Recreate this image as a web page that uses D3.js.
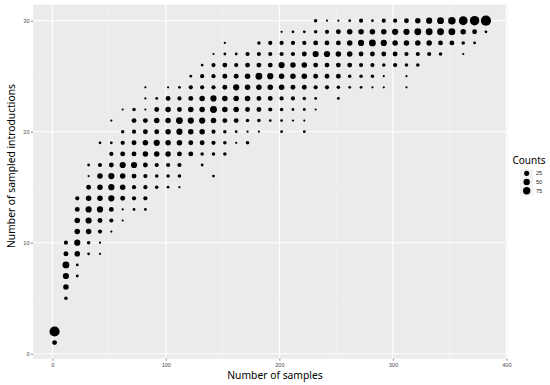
<!DOCTYPE html>
<html>
<head>
<meta charset="utf-8">
<script src="https://cdn.jsdelivr.net/npm/d3@7"></script>
<style>
body { margin: 0; background: white; }
svg { display: block; }
</style>
</head>
<body>
<svg></svg>
<script>
// number of samples (x) for each column of dots
var sampleSizes = [2, 12, 22, 32, 42, 52, 62, 72, 82, 92, 102, 112, 122, 132, 142, 152, 162, 172, 182, 192,
    202, 212, 222, 232, 242, 252, 262, 272, 282, 292, 302, 312, 322, 332, 342, 352, 362, 372, 382];

// lowest "number of sampled introductions" in each column
var firstIntro = [1, 5, 7, 9, 9, 11, 12, 13, 13, 15, 15, 15, 18, 17, 16, 18, 19, 19, 20, 21,
    20, 21, 20, 22, 24, 23, 24, 24, 24, 24, 26, 24, 26, 27, 27, 28, 27, 28, 29];

// counts going up from firstIntro (0 = no dot)
var countsByColumn = [
    [21, 181],
    [6, 32, 46, 62, 21, 12],
    [2, 2, 32, 46, 32, 32, 21, 12],
    [2, 6, 32, 46, 46, 32, 21, 1, 2],
    [1, 1, 12, 21, 46, 32, 32, 32, 12, 0, 2],
    [1, 12, 21, 46, 46, 46, 21, 12, 2, 0, 1],
    [1, 1, 21, 32, 32, 46, 21, 12, 6, 0, 1],
    [2, 12, 12, 21, 46, 21, 21, 12, 21, 6],
    [2, 12, 12, 12, 21, 32, 32, 21, 21, 1, 1, 1],
    [6, 6, 12, 32, 46, 21, 32, 21, 2],
    [2, 6, 12, 32, 32, 32, 32, 32, 21, 1],
    [1, 6, 12, 21, 32, 46, 62, 21, 12, 2],
    [21, 21, 32, 46, 32, 21, 12, 2],
    [2, 6, 21, 32, 46, 32, 32, 12, 12, 2],
    [2, 0, 6, 12, 12, 32, 62, 46, 12, 12, 12, 1],
    [6, 6, 6, 21, 32, 32, 21, 21, 21, 2, 1],
    [1, 2, 21, 32, 32, 46, 21, 12, 2],
    [6, 1, 6, 21, 32, 32, 32, 21, 12],
    [1, 6, 21, 21, 32, 62, 21, 12, 6],
    [2, 12, 21, 32, 46, 21, 12, 12],
    [2, 2, 6, 12, 32, 32, 46, 12, 12, 1],
    [1, 2, 12, 21, 32, 32, 12, 12, 2],
    [2, 1, 2, 6, 21, 32, 32, 21, 12, 2],
    [1, 2, 12, 21, 21, 46, 21, 6, 6],
    [12, 21, 21, 46, 21, 12, 1],
    [2, 6, 21, 21, 32, 21, 21, 1],
    [2, 6, 21, 32, 32, 32, 2],
    [2, 6, 12, 21, 46, 32, 12],
    [1, 6, 12, 21, 62, 32, 2],
    [1, 1, 6, 21, 46, 32, 12],
    [12, 21, 32, 46, 12],
    [1, 1, 6, 12, 32, 46, 21],
    [6, 12, 32, 62, 32],
    [12, 32, 62, 46],
    [6, 21, 62, 62],
    [21, 62, 81],
    [1, 6, 32, 126],
    [2, 21, 152],
    [2, 181]
];

var xTicks = [0, 100, 200, 300, 400];
var xMinor = [50, 150, 250, 350];
var yTicks = [0, 10, 20, 30];
var yMinor = [5, 15, 25];
var legendBreaks = [25, 50, 75];

var screen = {width: 550, height: 385};
var panel = {left: 33, right: 507.5, top: 4.6, bottom: 358.7};

var points = [];
sampleSizes.forEach(function(x, i){
    countsByColumn[i].forEach(function(c, j){
        if (c > 0) points.push({x: x, y: firstIntro[i] + j, count: c});
    });
});

var svg = d3.select("svg")
    .attr("width", screen.width)
    .attr("height", screen.height);

// ggplot style 5% expansion
var xExt = d3.extent(points, function(d){ return d.x; });
var yExt = d3.extent(points, function(d){ return d.y; });
var xPad = (xExt[1] - xExt[0]) * 0.05;
var yPad = (yExt[1] - yExt[0]) * 0.05;

var xScale = d3.scaleLinear()
    .domain([xExt[0] - xPad, xExt[1] + xPad])
    .range([panel.left, panel.right]);

var yScale = d3.scaleLinear()
    .domain([yExt[0] - yPad, yExt[1] + yPad])
    .range([panel.bottom, panel.top]);

// area-like size scale (diameter grows with sqrt of rescaled count)
var norm = d3.scaleLinear()
    .domain(d3.extent(points, function(d){ return d.count; }))
    .range([0, 1]);
var rScale = d3.scaleLinear().domain([0, 1]).range([1.1, 5.1]);
var radius = function(c){ return rScale(Math.sqrt(Math.max(0, norm(c)))); };

svg.append("rect")
    .attr("x", panel.left)
    .attr("y", panel.top)
    .attr("width", panel.right - panel.left)
    .attr("height", panel.bottom - panel.top)
    .attr("fill", "#EBEBEB");

var grid = svg.append("g").attr("id", "grid");

grid.selectAll(".xminor").data(xMinor).enter().append("line")
    .attr("x1", function(d){ return xScale(d); })
    .attr("x2", function(d){ return xScale(d); })
    .attr("y1", panel.top).attr("y2", panel.bottom)
    .attr("stroke", "#F7F7F7").attr("stroke-width", 0.6);

grid.selectAll(".yminor").data(yMinor).enter().append("line")
    .attr("y1", function(d){ return yScale(d); })
    .attr("y2", function(d){ return yScale(d); })
    .attr("x1", panel.left).attr("x2", panel.right)
    .attr("stroke", "#F7F7F7").attr("stroke-width", 0.6);

grid.selectAll(".xmajor").data(xTicks).enter().append("line")
    .attr("x1", function(d){ return xScale(d); })
    .attr("x2", function(d){ return xScale(d); })
    .attr("y1", panel.top).attr("y2", panel.bottom)
    .attr("stroke", "white").attr("stroke-width", 1.1);

grid.selectAll(".ymajor").data(yTicks).enter().append("line")
    .attr("y1", function(d){ return yScale(d); })
    .attr("y2", function(d){ return yScale(d); })
    .attr("x1", panel.left).attr("x2", panel.right)
    .attr("stroke", "white").attr("stroke-width", 1.1);

svg.append("g")
    .attr("id", "dots")
    .selectAll("circle")
    .data(points)
    .enter()
    .append("circle")
    .attr("cx", function(d){ return xScale(d.x); })
    .attr("cy", function(d){ return yScale(d.y); })
    .attr("r", function(d){ return radius(d.count); })
    .attr("fill", "black");

var xAxis = d3.axisBottom(xScale).tickValues(xTicks).tickSize(2).tickPadding(2);
var yAxis = d3.axisLeft(yScale).tickValues(yTicks).tickSize(2).tickPadding(1.5);

var styleAxis = function(g){
    g.select(".domain").remove();
    g.selectAll(".tick line").attr("stroke", "#333333").attr("stroke-width", 0.6);
    g.selectAll(".tick text")
        .attr("fill", "#4D4D4D")
        .style("font-family", "'Liberation Sans', Arial, sans-serif")
        .style("font-size", "5.6px");
};

svg.append("g")
    .attr("transform", "translate(0," + panel.bottom + ")")
    .call(xAxis)
    .call(styleAxis);

svg.append("g")
    .attr("transform", "translate(" + panel.left + ",0)")
    .call(yAxis)
    .call(styleAxis);

svg.append("text")
    .attr("x", 275)
    .attr("y", 379.3)
    .attr("text-anchor", "middle")
    .style("font-family", "'Noto Sans', 'Open Sans', sans-serif")
    .style("font-size", "10.3px")
    .attr("fill", "black")
    .text("Number of samples");

svg.append("text")
    .attr("transform", "translate(15,166) rotate(-90)")
    .attr("text-anchor", "middle")
    .style("font-family", "'Noto Sans', 'Open Sans', sans-serif")
    .style("font-size", "10.3px")
    .attr("fill", "black")
    .text("Number of sampled introductions");

// legend
var legend = svg.append("g").attr("id", "legend");

legend.append("text")
    .attr("x", 512.5)
    .attr("y", 164)
    .style("font-family", "'Noto Sans', 'Open Sans', sans-serif")
    .style("font-size", "10px")
    .attr("fill", "black")
    .text("Counts");

var keyH = 8.7;
var keys = legend.selectAll(".key")
    .data(legendBreaks)
    .enter()
    .append("g")
    .attr("transform", function(d, i){ return "translate(520," + (169 + i * keyH) + ")"; });

keys.append("rect")
    .attr("width", 13.3)
    .attr("height", keyH + 0.2)
    .attr("fill", "#F2F2F2");

keys.append("circle")
    .attr("cx", 6.7)
    .attr("cy", keyH / 2)
    .attr("r", function(d){ return radius(d); })
    .attr("fill", "black");

keys.append("text")
    .attr("x", 16)
    .attr("y", keyH / 2 + 2)
    .style("font-family", "'Liberation Sans', Arial, sans-serif")
    .style("font-size", "5.5px")
    .attr("fill", "#222222")
    .text(function(d){ return d; });
</script>
</body>
</html>
